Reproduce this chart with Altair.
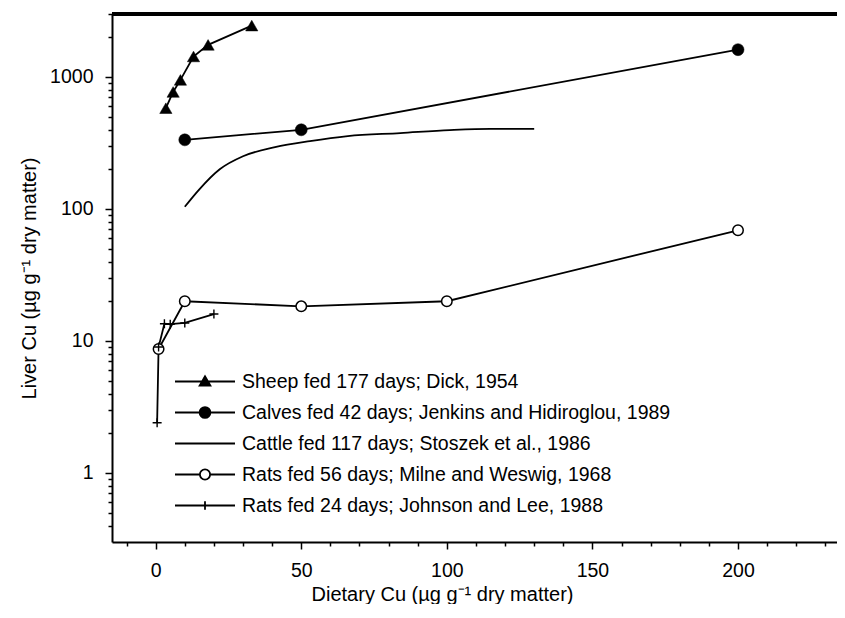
import altair as alt
import pandas as pd

# ---------------- data ----------------
series_names = [
    "Sheep fed 177 days; Dick, 1954",
    "Calves fed 42 days; Jenkins and Hidiroglou, 1989",
    "Cattle fed 117 days; Stoszek et al., 1986",
    "Rats fed 56 days; Milne and Weswig, 1968",
    "Rats fed 24 days; Johnson and Lee, 1988",
]

sheep_x = [3.5, 6, 8.5, 13, 18, 33]
sheep_y = [580, 770, 950, 1430, 1750, 2450]

calves_x = [10, 50, 200]
calves_y = [334, 398, 1610]

cattle_x = [10, 15, 22, 30, 41, 53, 66, 84, 101, 115, 130]
cattle_y = [104, 141, 200, 251, 294, 327, 357, 376, 396, 405, 405]

rats56_x = [1, 10, 50, 100, 200]
rats56_y = [8.7, 20, 18.3, 20, 69]

rats24_x = [0.5, 1, 3, 5, 10, 20]
rats24_y = [2.4, 9, 13.5, 13.4, 13.7, 16]

x_tick_values = list(range(-10, 231, 10))
y_tick_values = [0.4, 0.5, 0.6, 0.7, 0.8, 0.9,
                 1, 2, 3, 4, 5, 6, 7, 8, 9,
                 10, 20, 30, 40, 50, 60, 70, 80, 90,
                 100, 200, 300, 400, 500, 600, 700, 800, 900,
                 1000, 2000, 3000]


def frame(name, xs, ys):
    return pd.DataFrame({"series": name, "x": xs, "y": ys})


sheep = frame(series_names[0], sheep_x, sheep_y)
calves = frame(series_names[1], calves_x, calves_y)
cattle = frame(series_names[2], cattle_x, cattle_y)
rats56 = frame(series_names[3], rats56_x, rats56_y)
rats24 = frame(series_names[4], rats24_x, rats24_y)
all_df = pd.concat([sheep, calves, cattle, rats56, rats24], ignore_index=True)

# ---------------- layout ----------------
W, H = 725, 528
FONT = "Liberation Sans"
FS = 19.5
TFS = 20
LW = 1.8

x_scale = alt.Scale(domain=[-15, 234], nice=False, zero=False)
y_scale = alt.Scale(type="log", domain=[0.3, 3000], nice=False)

x_axis = alt.Axis(
    values=x_tick_values,
    labelExpr="datum.value >= 0 && datum.value % 50 == 0 ? datum.label : ''",
    tickSize={"condition": {"test": "datum.value % 50 == 0", "value": 7}, "value": 4},
    labelPadding=12,
    labelFlush=False,
    labelOverlap=False,
    title="Dietary Cu (µg g⁻¹ dry matter)",
    titlePadding=5,
    titleX=330,
)
y_axis = alt.Axis(
    values=y_tick_values,
    labelExpr="abs(log(datum.value)/LN10 - round(log(datum.value)/LN10)) < 0.000001 && datum.value >= 1 ? format(datum.value, 'd') : ''",
    tickSize={"condition": {"test": "abs(log(datum.value)/LN10 - round(log(datum.value)/LN10)) < 0.000001", "value": 7}, "value": 4},
    labelPadding=12,
    labelFlush=False,
    labelOverlap=False,
    title="Liver Cu (µg g⁻¹ dry matter)",
    titlePadding=10,
)

x_enc = alt.X("x:Q", scale=x_scale, axis=x_axis)
y_enc = alt.Y("y:Q", scale=y_scale, axis=y_axis)


def line_layer(df, interpolate="linear"):
    return alt.Chart(df).mark_line(color="black", strokeWidth=LW, interpolate=interpolate).encode(
        x=x_enc, y=y_enc
    )


def point_layer(df, shape, fill, size, sw=1.5, filled=True):
    return alt.Chart(df).mark_point(
        shape=shape, filled=filled, fill=fill, stroke="black", strokeWidth=sw, size=size, opacity=1
    ).encode(x=x_enc, y=y_enc)


plus_path = "M-1,0H1M0,-1V1"

lines = [
    line_layer(sheep),
    line_layer(calves),
    line_layer(cattle, "monotone"),
    line_layer(rats56),
    line_layer(rats24),
]
points = [
    point_layer(sheep, "triangle-up", "black", 150, sw=0.5),
    point_layer(calves, "circle", "black", 144, sw=0.5),
    point_layer(rats56, "circle", "white", 110, sw=1.5),
    point_layer(rats24, plus_path, "transparent", 81, sw=1.4, filled=False),
]

# legend symbols: line with marker in the middle (unit coords scaled by sqrt(size)/2)
legend_paths = [
    "M-1,0H1M-0.18,0.14L0,-0.17L0.18,0.14Z",
    "M-1,0H1M-0.18,0A0.18,0.18,0,1,1,0.18,0A0.18,0.18,0,1,1,-0.18,0Z",
    "M-1,0H1",
    "M-1,0H-0.17M0.17,0H1M-0.17,0A0.17,0.17,0,1,1,0.17,0A0.17,0.17,0,1,1,-0.17,0Z",
    "M-1,0H1M0,-0.14V0.14",
]
legend_fills = ["black", "black", "transparent", "white", "transparent"]
legend_strokes = ["black"] * 5

leg = alt.Legend(
    title=None,
    orient="none",
    legendX=62,
    legendY=352,
    symbolSize=3600,
    clipHeight=31,
    rowPadding=0,
    padding=0,
    labelFont=FONT,
    labelFontSize=FS,
    labelColor="black",
    labelOffset=6,
    labelLimit=0,
    symbolStrokeColor="black",
    symbolStrokeWidth=LW,
    symbolOffset=0,
)

legend_layer = alt.Chart(all_df).transform_filter("false").mark_point(
    strokeWidth=LW, opacity=1
).encode(
    x=x_enc,
    y=y_enc,
    shape=alt.Shape("series:N", scale=alt.Scale(domain=series_names, range=legend_paths), legend=leg),
    fill=alt.Fill("series:N", scale=alt.Scale(domain=series_names, range=legend_fills), legend=leg),
    stroke=alt.Stroke("series:N", scale=alt.Scale(domain=series_names, range=legend_strokes), legend=leg),
)

top_border = alt.Chart(all_df).mark_rule(color="black", strokeWidth=2.5).encode(
    x=alt.value(0), x2=alt.value(W), y=alt.value(0)
)

chart = alt.layer(top_border, *lines, *points, legend_layer).properties(
    width=W,
    height=H,
    autosize=alt.AutoSizeParams(type="none"),
    padding={"left": 104, "top": 6, "right": 0, "bottom": 62},
).configure_view(stroke=None).configure_axis(
    grid=False,
    domainColor="black",
    domainWidth=2,
    tickColor="black",
    tickWidth=1.5,
    labelFont=FONT,
    labelFontSize=FS,
    labelColor="black",
    titleFont=FONT,
    titleFontSize=TFS,
    titleFontWeight="normal",
    titleColor="black",
)

chart.save("out.html", embed_options={"renderer": "svg", "actions": False})
